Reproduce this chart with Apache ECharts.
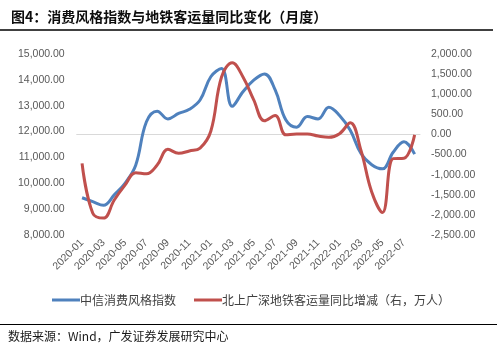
<!DOCTYPE html>
<html><head><meta charset="utf-8">
<script src="https://cdn.jsdelivr.net/npm/echarts@6/dist/echarts.min.js"></script>
<style>html,body{margin:0;padding:0;background:#fff}#c{width:497px;height:349px}</style>
</head><body><div id="c"></div>
<script>
const months = ['2020-01','2020-02','2020-03','2020-04','2020-05','2020-06','2020-07','2020-08','2020-09','2020-10','2020-11','2020-12',
'2021-01','2021-02','2021-03','2021-04','2021-05','2021-06','2021-07','2021-08','2021-09','2021-10','2021-11','2021-12',
'2022-01','2022-02','2022-03','2022-04','2022-05','2022-06','2022-07','2022-08'];
const consumerIndex = [9440,9290,9150,9550,10000,10700,12380,12790,12490,12700,12860,13220,
14120,14440,12980,13540,13990,14230,13610,12450,12170,12580,12490,12940,12620,12050,11150,10720,10560,11200,11610,11130];
const metroYoY = [-720,-1960,-2080,-1630,-1260,-950,-980,-760,-370,-470,-410,-340,
80,1430,1780,1430,860,340,470,-10,10,10,-40,-70,20,290,-400,-1430,-1940,-600,-590,-10];
const leftTicks = {min:8000,max:15000,interval:1000};
const rightTicks = {min:-2500,max:2000,interval:500};
const seriesNames = ['中信消费风格指数','北上广深地铁客运量同比增减（右，万人）'];

const fmt = v => v.toLocaleString('en-US',{minimumFractionDigits:2,maximumFractionDigits:2});
const chart = echarts.init(document.getElementById('c'));
const lblFont = 'Liberation Sans, Arial, sans-serif';
chart.setOption({
  animation:false,
  title:{text:'图4：消费风格指数与地铁客运量同比变化（月度）',left:6,top:5,
    textStyle:{fontSize:14,fontWeight:'bold',color:'#0d0d0d',fontFamily:'Noto Sans CJK SC'}},
  graphic:[
    {type:'line',shape:{x1:0,y1:30,x2:493,y2:30},style:{stroke:'#000',lineWidth:1.5}},
    {type:'line',shape:{x1:0,y1:324.5,x2:497,y2:324.5},style:{stroke:'#000',lineWidth:1.2}},
    {type:'text',left:8,top:330,style:{text:'数据来源：Wind，广发证券发展研究中心',fontSize:12,fill:'#1a1a1a',fontFamily:'Noto Sans CJK SC'}}
  ],
  legend:{left:47,top:289,itemWidth:28,itemHeight:3,itemGap:18,icon:'rect',
    textStyle:{fontSize:12,color:'#404040',fontFamily:'Noto Sans CJK SC',padding:[0,0,0,-5]},
    data:seriesNames},
  grid:{left:76.7,right:77,top:54,bottom:114},
  xAxis:{type:'category',data:months,boundaryGap:true,
    axisLine:{lineStyle:{color:'#d9d9d9'}},
    axisTick:{interval:1,length:4,lineStyle:{color:'#d9d9d9'}},
    axisLabel:{interval:1,rotate:45,fontSize:10.5,color:'#595959',fontFamily:lblFont,margin:6}},
  yAxis:[
    {type:'value',min:leftTicks.min,max:leftTicks.max,interval:leftTicks.interval,
     axisLine:{show:false},axisTick:{show:false},splitLine:{show:false},
     axisLabel:{formatter:fmt,fontSize:10.5,color:'#595959',fontFamily:lblFont,margin:12}},
    {type:'value',min:rightTicks.min,max:rightTicks.max,interval:rightTicks.interval,
     axisLine:{show:false},axisTick:{show:false},splitLine:{show:false},
     axisLabel:{formatter:fmt,fontSize:10.5,color:'#595959',fontFamily:lblFont,margin:11}}
  ],
  series:[
    {name:seriesNames[0],type:'line',yAxisIndex:0,data:consumerIndex,smooth:0.4,showSymbol:false,
     lineStyle:{width:3,color:'#4F81BD'},itemStyle:{color:'#4F81BD'}},
    {name:seriesNames[1],type:'line',yAxisIndex:1,data:metroYoY,smooth:0.4,showSymbol:false,
     lineStyle:{width:3,color:'#C0504D'},itemStyle:{color:'#C0504D'}}
  ]
});
</script></body></html>
